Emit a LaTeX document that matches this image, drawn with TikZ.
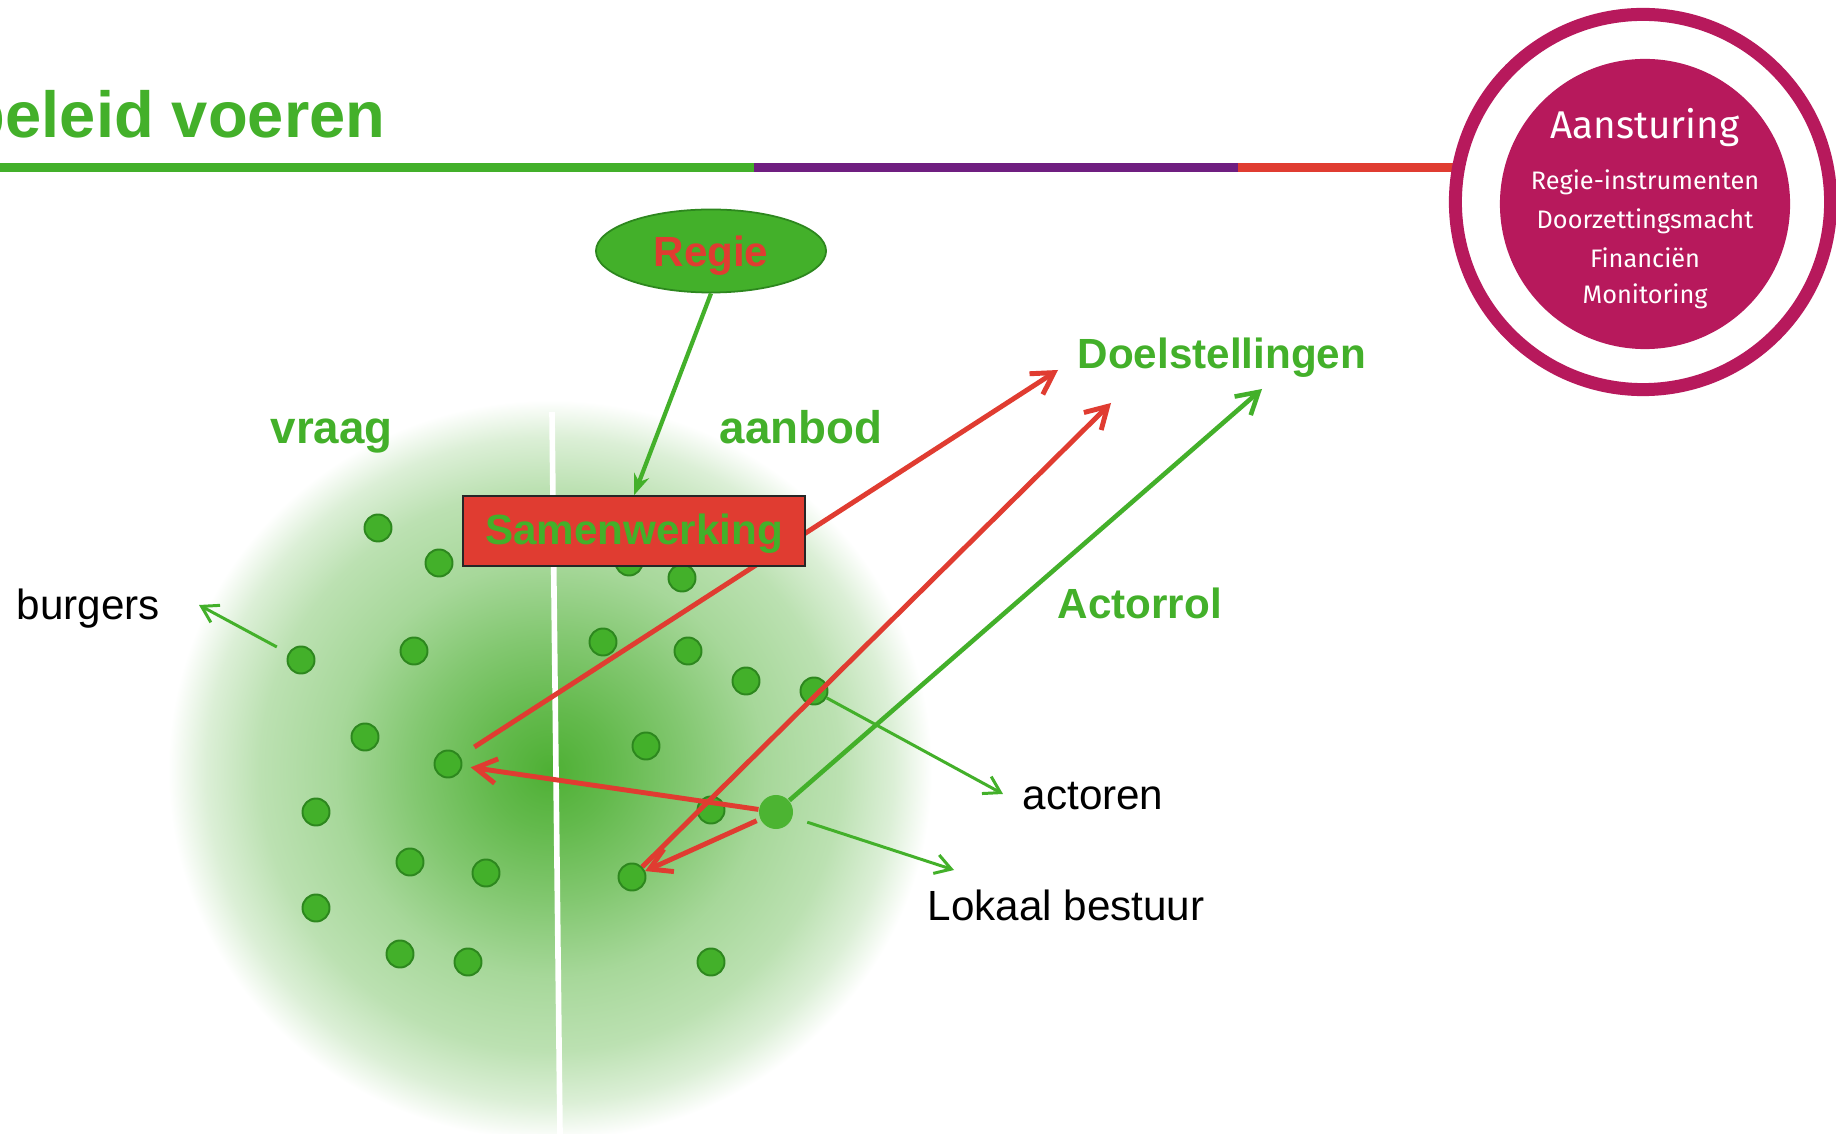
\documentclass[tikz,border=0pt]{standalone}
\usepackage{fontspec}
\setmainfont{Liberation Sans}
\newfontfamily\aansfont{Fira Sans}
\usetikzlibrary{arrows.meta, shapes.geometric}
\definecolor{gr}{RGB}{67,176,42}
\definecolor{gr2}{RGB}{76,180,50}
\definecolor{dkgr}{RGB}{45,135,30}
\definecolor{rd}{RGB}{224,60,49}
\definecolor{pur}{RGB}{111,30,128}
\definecolor{mag}{RGB}{183,25,92}
\definecolor{blobcore}{RGB}{78,176,52}
\colorlet{blobA}{blobcore!88!white}
\colorlet{blobB}{blobcore!70!white}
\colorlet{blobC}{blobcore!50!white}
\colorlet{blobD}{blobcore!38!white}
\colorlet{blobE}{blobcore!20!white}
\pgfdeclareradialshading{blob}{\pgfpoint{0bp}{0bp}}{color(0bp)=(blobcore); color(4bp)=(blobA); color(9bp)=(blobB); color(14bp)=(blobC); color(19bp)=(blobD); color(22.5bp)=(blobE); color(25bp)=(white); color(50bp)=(white)}
\begin{document}
\begin{tikzpicture}[x=0.01cm, y=-0.01cm,
  titletext/.style={font=\bfseries\fontsize{18.5}{21}\selectfont, text=gr, inner sep=0pt},
  lblbig/.style={font=\bfseries\fontsize{13}{15}\selectfont, text=gr, inner sep=0pt},
  lbl/.style={font=\bfseries\fontsize{12}{14}\selectfont, text=gr, inner sep=0pt},
  blk/.style={font=\fontsize{12}{14}\selectfont, text=black, inner sep=0pt},
  aanstitle/.style={font=\aansfont\fontsize{11}{13}\selectfont, text=white, inner sep=0pt},
  aanssub/.style={font=\aansfont\fontsize{7.2}{9}\selectfont, text=white, inner sep=0pt},
  dot/.style={circle, fill=gr, draw=dkgr, line width=0.55pt, minimum size=0.27cm, inner sep=0pt},
  bigdot/.style={circle, fill=gr2, minimum size=0.34cm, inner sep=0pt},
  regiebox/.style={ellipse, fill=gr, draw=dkgr, line width=0.5pt, minimum width=2.30cm, minimum height=0.83cm, inner sep=0pt, text=rd, text depth=0pt, font=\bfseries\fontsize{12}{14}\selectfont},
  samenbox/.style={rectangle, fill=rd, draw=black!85, line width=0.4pt, minimum width=3.42cm, minimum height=0.70cm, inner sep=0pt, text=gr, text depth=1pt, font=\bfseries\fontsize{12}{14}\selectfont},
  thinarr/.style={draw=gr, line width=0.85pt, -{Straight Barb[length=4.5pt, width=5.5pt, line width=0.85pt]}},
  garr/.style={draw=gr, line width=1.3pt, -{Straight Barb[length=6pt, width=7pt, line width=1.3pt]}},
  rarr/.style={draw=rd, line width=1.4pt, -{Straight Barb[length=6pt, width=7pt, line width=1.4pt]}},
  regarr/.style={draw=gr, line width=1.2pt, -{Stealth[length=6pt, width=4.5pt]}}
]
\useasboundingbox (0,0) rectangle (1836,1134);
\fill[white] (0,0) rectangle (1836,1134);

% green field
\shade[shading=blob] (550,770) ellipse [x radius=382, y radius=370];
\draw[white, line width=1.6pt] (552,412) -- (560,1134);

% header
\node[titletext, anchor=base east] (title) at (386,138) {beleid voeren};
\draw[gr, line width=2.3pt] (0,167.5) -- (754,167.5);
\draw[pur, line width=2.3pt] (754,167.5) -- (1238,167.5);
\draw[rd, line width=2.3pt] (1238,167.5) -- (1455,167.5);

% Aansturing circle
\draw[mag, line width=3.7pt] (1643,202) circle [radius=1.875cm];
\node[circle, fill=mag, minimum size=2.9cm, inner sep=0pt] (aans) at (1645,204) {};
\node[aanstitle, anchor=base] (aanst) at (1645,139) {Aansturing};
\node[aanssub, anchor=base] (s1) at (1645,190) {Regie-instrumenten};
\node[aanssub, anchor=base] (s2) at (1645,229) {Doorzettingsmacht};
\node[aanssub, anchor=base] (s3) at (1645,268) {Financiën};
\node[aanssub, anchor=base] (s4) at (1645,304) {Monitoring};

% labels
\node[lblbig, anchor=base west] (vraag) at (270,444) {vraag};
\node[lblbig, anchor=base west] (aanbod) at (719,444) {aanbod};
\node[lbl, anchor=base west] (doel) at (1077,369) {Doelstellingen};
\node[lbl, anchor=base west] (actorrol) at (1057,619) {Actorrol};
\node[blk, anchor=base west] (burgers) at (16,620) {burgers};
\node[blk, anchor=base west] (actoren) at (1022,810) {actoren};
\node[blk, anchor=base west] (lokaal) at (927,920) {Lokaal bestuur};

% dots
\foreach \n/\x/\y in {1/378/528, 2/439/563, 3/301/660, 4/414/651, 5/365/737, 6/448/764, 7/316/812, 8/410/862, 9/486/873, 10/316/908, 11/400/954, 12/468/962, 13/629/562, 14/682/578, 15/603/642, 16/688/651, 17/746/681, 18/814/691, 19/646/746, 20/711/810, 21/632/877, 22/711/962}
  \node[dot] (d\n) at (\x,\y) {};
\node[bigdot] (big) at (776,812) {};

% free ends
\coordinate (burgtip) at (199,605);
\coordinate (actortip) at (1003,794);
\coordinate (lokaaltip) at (954,870);
\coordinate (doeltipA) at (1058,370);
\coordinate (doeltipB) at (1111,403);
\coordinate (doeltipC) at (1262,389);

% connectors
\draw[thinarr, shorten <=3.7pt] (d3) -- (burgtip);
\draw[thinarr] (d18) -- (actortip);
\draw[thinarr, shorten <=4.3pt] (big) -- (lokaaltip);
\draw[garr] (big) -- (doeltipC);
\draw[rarr, shorten <=4.8pt] (d6) -- (doeltipA);
\draw[rarr] (d21) -- (doeltipB);
\draw[rarr, shorten >=2.4pt] (big) -- (d6);
\draw[rarr, shorten <=1pt] (big) -- (d21);

% Regie and Samenwerking
\node[samenbox] (samen) at (634,531) {Samenwerking};
\node[regiebox] (regie) at (711,251) {Regie};
\draw[regarr] (regie.south) -- (samen.north);
\end{tikzpicture}
\end{document}
